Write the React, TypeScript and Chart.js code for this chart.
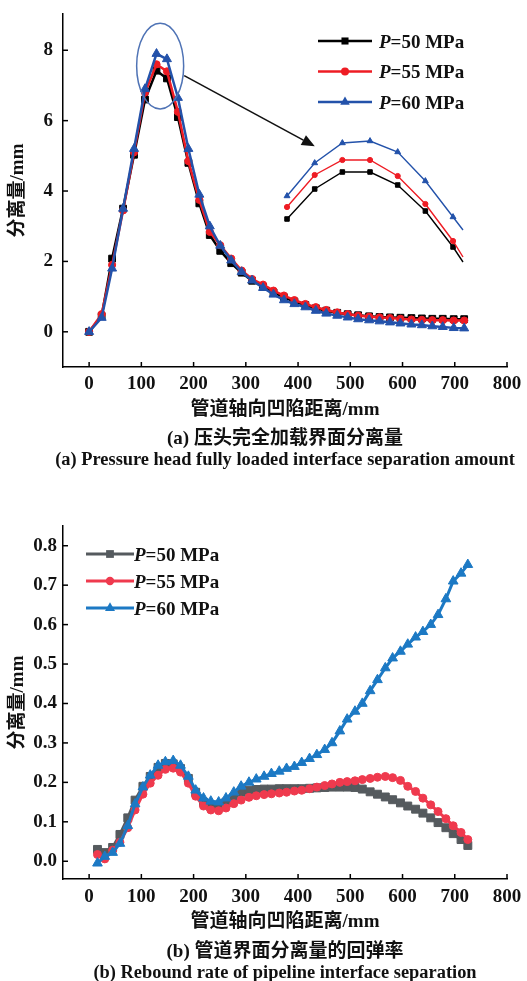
import React, { useEffect, useRef } from "react";
import { Chart, registerables } from "chart.js";
Chart.register(...registerables);

// ---------- data: chart (a) ----------
const seriesNames = ["50", "55", "60"];
const distA = [0, 24, 44, 65, 86, 107, 129, 149, 170, 190, 211, 231, 251, 272, 292, 312, 333, 353, 373, 393, 414, 434, 454, 475, 495, 515, 536, 556, 576, 596, 617, 637, 657, 677, 698, 718];
const sepA50 = [0, 0.45, 2.08, 3.5, 5.03, 6.6, 7.42, 7.2, 6.1, 4.8, 3.65, 2.75, 2.3, 1.95, 1.68, 1.45, 1.28, 1.12, 0.98, 0.86, 0.76, 0.67, 0.6, 0.54, 0.5, 0.47, 0.44, 0.42, 0.41, 0.4, 0.39, 0.38, 0.37, 0.37, 0.36, 0.36];
const sepA55 = [0, 0.5, 1.9, 3.45, 5.1, 6.8, 7.6, 7.4, 6.25, 4.85, 3.75, 2.84, 2.46, 2.08, 1.74, 1.5, 1.34, 1.17, 1.03, 0.9, 0.79, 0.7, 0.62, 0.55, 0.5, 0.46, 0.43, 0.41, 0.39, 0.37, 0.35, 0.34, 0.33, 0.33, 0.32, 0.32];
const sepA60 = [0, 0.4, 1.8, 3.5, 5.2, 6.9, 7.9, 7.75, 6.65, 5.2, 3.9, 3.0, 2.45, 2.03, 1.7, 1.46, 1.25, 1.06, 0.9, 0.79, 0.7, 0.6, 0.52, 0.46, 0.41, 0.36, 0.33, 0.3, 0.27, 0.24, 0.21, 0.19, 0.16, 0.14, 0.11, 0.1];
// magnified peak (inset)
const insetDist = [110, 120, 130, 140, 150, 160, 170, 173.6];
const inset50 = [6.98, 7.28, 7.45, 7.45, 7.32, 7.06, 6.7, 6.55];
const inset55 = [7.1, 7.42, 7.57, 7.57, 7.41, 7.13, 6.76, 6.6];
const inset60 = [7.21, 7.54, 7.74, 7.76, 7.65, 7.36, 7.0, 6.87];

// ---------- data: chart (b) ----------
const distB = [16, 30, 45, 59, 74, 88, 103, 117, 132, 146, 161, 175, 190, 204, 219, 233, 248, 262, 277, 291, 306, 320, 335, 349, 364, 378, 393, 407, 422, 436, 451, 465, 480, 494, 509, 523, 538, 552, 567, 581, 596, 610, 625, 639, 654, 668, 683, 697, 712, 725];
const rebB50 = [0.03, 0.022, 0.035, 0.068, 0.11, 0.155, 0.19, 0.215, 0.238, 0.248, 0.247, 0.235, 0.21, 0.175, 0.15, 0.138, 0.138, 0.15, 0.163, 0.175, 0.18, 0.182, 0.183, 0.183, 0.184, 0.184, 0.184, 0.184, 0.185, 0.186, 0.187, 0.188, 0.188, 0.188, 0.187, 0.183, 0.176, 0.17, 0.163, 0.156, 0.148, 0.14, 0.132, 0.122, 0.11, 0.098, 0.085, 0.07, 0.055, 0.04];
const rebB55 = [0.017, 0.006, 0.028, 0.048, 0.085, 0.13, 0.17, 0.198, 0.218, 0.233, 0.236, 0.226, 0.198, 0.165, 0.14, 0.13, 0.128, 0.135, 0.146, 0.155, 0.162, 0.166, 0.169, 0.171, 0.173, 0.175, 0.178, 0.18, 0.184, 0.188, 0.192, 0.196, 0.2, 0.202, 0.204, 0.207, 0.21, 0.213, 0.215, 0.212, 0.205, 0.19, 0.177, 0.16, 0.143, 0.126, 0.108, 0.09, 0.073, 0.055];
const rebB60 = [-0.005, 0.012, 0.022, 0.045, 0.09, 0.145, 0.188, 0.218, 0.243, 0.252, 0.255, 0.243, 0.215, 0.18, 0.16, 0.152, 0.15, 0.16, 0.175, 0.19, 0.2, 0.208, 0.215, 0.222, 0.228, 0.235, 0.24, 0.25, 0.26, 0.27, 0.283, 0.3, 0.33, 0.36, 0.38, 0.4, 0.432, 0.46, 0.49, 0.515, 0.532, 0.55, 0.568, 0.582, 0.6, 0.625, 0.665, 0.71, 0.73, 0.752];

// ---------- ticks ----------
const xTicks = [0, 100, 200, 300, 400, 500, 600, 700, 800];
const yTicksA = [0, 2, 4, 6, 8];
const yTicksB = [0, 0.1, 0.2, 0.3, 0.4, 0.5, 0.6, 0.7, 0.8];

const xTitle = "管道轴向凹陷距离/mm";
const yTitle = "分离量/mm";
const captionA1 = "(a) 压头完全加载界面分离量";
const captionA2 = "(a) Pressure head fully loaded interface separation amount";
const captionB1 = "(b) 管道界面分离量的回弹率";
const captionB2 = "(b) Rebound rate of pipeline interface separation";

const FONT = '"Liberation Serif", "Noto Sans CJK SC", serif';

const pts = (xs: number[], ys: number[]) => xs.map((x, i) => ({ x, y: ys[i] }));

function drawMarker(ctx: CanvasRenderingContext2D, style: string, x: number, y: number, r: number) {
  ctx.beginPath();
  if (style === "rect") {
    const s = r * Math.SQRT1_2;
    ctx.rect(x - s, y - s, 2 * s, 2 * s);
  } else if (style === "circle") {
    ctx.arc(x, y, r, 0, Math.PI * 2);
  } else {
    ctx.moveTo(x, y - r);
    ctx.lineTo(x + r * 0.866, y + r * 0.5);
    ctx.lineTo(x - r * 0.866, y + r * 0.5);
    ctx.closePath();
  }
  ctx.fill();
}

const inwardTicks = {
  id: "inwardTicks",
  afterDatasetsDraw(chart: any) {
    const { ctx, chartArea, scales } = chart;
    ctx.save();
    ctx.strokeStyle = "#000";
    ctx.lineWidth = 1.5;
    const xs = scales.x;
    const ys = scales.y;
    xs.ticks.forEach((t: any) => {
      const px = xs.getPixelForValue(t.value);
      ctx.beginPath();
      ctx.moveTo(px, chartArea.bottom);
      ctx.lineTo(px, chartArea.bottom - 5);
      ctx.stroke();
    });
    ys.ticks.forEach((t: any) => {
      const py = ys.getPixelForValue(t.value);
      ctx.beginPath();
      ctx.moveTo(chartArea.left, py);
      ctx.lineTo(chartArea.left + 5, py);
      ctx.stroke();
    });
    ctx.restore();
  },
};

const customLegend = {
  id: "customLegend",
  afterDraw(chart: any, _args: any, opts: any) {
    if (!opts || !opts.items) return;
    const { ctx, chartArea } = chart;
    ctx.save();
    opts.items.forEach((it: any, i: number) => {
      const y = chartArea.top + opts.dy + i * opts.gap;
      const x0 = chartArea.left + opts.dx;
      ctx.strokeStyle = it.color;
      ctx.fillStyle = it.color;
      ctx.lineWidth = opts.lineWidth;
      ctx.beginPath();
      ctx.moveTo(x0, y);
      ctx.lineTo(x0 + opts.len, y);
      ctx.stroke();
      drawMarker(ctx, it.style, x0 + opts.len / 2, y, it.r);
      ctx.fillStyle = "#111";
      ctx.textBaseline = "middle";
      ctx.textAlign = "left";
      let tx = x0 + opts.len + opts.textGap;
      ctx.font = `italic bold ${opts.fontSize}px ${FONT}`;
      ctx.fillText("P", tx, y + 2);
      tx += ctx.measureText("P").width;
      ctx.font = `bold ${opts.fontSize}px ${FONT}`;
      ctx.fillText(`=${it.label} MPa`, tx, y + 2);
    });
    ctx.restore();
  },
};

const zoomMark = {
  id: "zoomMark",
  afterDatasetsDraw(chart: any, _args: any, opts: any) {
    if (!opts || !opts.enabled) return;
    const { ctx, scales } = chart;
    const xs = scales.x;
    const ys = scales.y;
    const cx = xs.getPixelForValue(136);
    const cy = ys.getPixelForValue(7.55);
    const rx = xs.getPixelForValue(181) - cx;
    const ry = cy - ys.getPixelForValue(8.77);
    ctx.save();
    ctx.strokeStyle = "#4f73b5";
    ctx.lineWidth = 1.5;
    ctx.beginPath();
    ctx.ellipse(cx, cy, rx, ry, 0, 0, Math.PI * 2);
    ctx.stroke();
    const x1 = xs.getPixelForValue(182);
    const y1 = ys.getPixelForValue(7.28);
    const x2 = xs.getPixelForValue(432);
    const y2 = ys.getPixelForValue(5.27);
    const ang = Math.atan2(y2 - y1, x2 - x1);
    const hl = 13;
    const hw = 5.5;
    ctx.strokeStyle = "#111";
    ctx.fillStyle = "#111";
    ctx.lineWidth = 1.6;
    ctx.beginPath();
    ctx.moveTo(x1, y1);
    ctx.lineTo(x2 - hl * Math.cos(ang), y2 - hl * Math.sin(ang));
    ctx.stroke();
    ctx.beginPath();
    ctx.moveTo(x2, y2);
    ctx.lineTo(x2 - hl * Math.cos(ang) + hw * Math.sin(ang), y2 - hl * Math.sin(ang) - hw * Math.cos(ang));
    ctx.lineTo(x2 - hl * Math.cos(ang) - hw * Math.sin(ang), y2 - hl * Math.sin(ang) + hw * Math.cos(ang));
    ctx.closePath();
    ctx.fill();
    ctx.restore();
  },
};

function lineDs(label: string, data: any[], color: string, style: string, r: number, order: number, width: number, extra: any = {}) {
  return {
    label,
    data,
    borderColor: color,
    backgroundColor: color,
    pointBackgroundColor: color,
    pointBorderColor: color,
    pointBorderWidth: 1,
    pointStyle: style,
    pointRadius: r,
    borderWidth: width,
    tension: 0,
    order,
    ...extra,
  };
}

function axisCommon(min: number, max: number, ticks: number[], fmt: (v: number) => string, fixed: number, isX: boolean, pad: number, titlePad: number) {
  return {
    type: "linear",
    min,
    max,
    afterBuildTicks: (s: any) => {
      s.ticks = ticks.map((v) => ({ value: v }));
    },
    afterFit: (s: any) => {
      if (isX) s.height = fixed;
      else s.width = fixed;
      s.paddingTop = 0;
      s.paddingBottom = 0;
      s.paddingLeft = 0;
      s.paddingRight = 0;
    },
    grid: { display: true, drawOnChartArea: false, drawTicks: false },
    border: { display: true, color: "#000", width: 1.5 },
    ticks: {
      color: "#111",
      padding: pad,
      font: { family: FONT, size: 19, weight: "bold" },
      callback: (v: any) => fmt(Number(v)),
      maxRotation: 0,
      autoSkip: false,
    },
    title: {
      display: true,
      text: isX ? xTitle : yTitle,
      color: "#111",
      font: { family: FONT, size: 19, weight: "bold" },
      padding: isX ? { top: 0, bottom: titlePad } : { top: titlePad, bottom: 0 },
    },
  };
}

function ChartA() {
  const ref = useRef<HTMLCanvasElement | null>(null);
  useEffect(() => {
    if (!ref.current) return;
    const colors = ["#000000", "#ee1c24", "#2352aa"];
    const chart = new Chart(ref.current, {
      type: "line",
      data: {
        datasets: [
          lineDs(seriesNames[0], pts(distA, sepA50), colors[0], "rect", 4.8, 3, 2.5),
          lineDs(seriesNames[1], pts(distA, sepA55), colors[1], "circle", 3.6, 2, 2.5),
          lineDs(seriesNames[2], pts(distA, sepA60), colors[2], "triangle", 5.2, 1, 2.5),
          lineDs("i50", pts(insetDist, inset50), colors[0], "rect", 3.2, 6, 1.4, { xAxisID: "xi", yAxisID: "yi", pointRadius: [3.2, 3.2, 3.2, 3.2, 3.2, 3.2, 3.2, 0] }),
          lineDs("i55", pts(insetDist, inset55), colors[1], "circle", 2.6, 5, 1.4, { xAxisID: "xi", yAxisID: "yi", pointRadius: [2.6, 2.6, 2.6, 2.6, 2.6, 2.6, 2.6, 0] }),
          lineDs("i60", pts(insetDist, inset60), colors[2], "triangle", 3.4, 4, 1.4, { xAxisID: "xi", yAxisID: "yi", pointRadius: [3.4, 3.4, 3.4, 3.4, 3.4, 3.4, 3.4, 0] }),
        ] as any,
      },
      options: {
        animation: false,
        responsive: false,
        devicePixelRatio: 1,
        layout: { padding: { top: 14, right: 20, left: 0, bottom: 0 } },
        plugins: {
          legend: { display: false },
          tooltip: { enabled: false },
          customLegend: {
            items: [
              { label: seriesNames[0], color: colors[0], style: "rect", r: 5 },
              { label: seriesNames[1], color: colors[1], style: "circle", r: 4 },
              { label: seriesNames[2], color: colors[2], style: "triangle", r: 5.5 },
            ],
            dx: 255,
            dy: 27,
            gap: 30.5,
            len: 54,
            textGap: 7,
            fontSize: 19,
            lineWidth: 2.5,
          },
          zoomMark: { enabled: true },
        } as any,
        scales: {
          x: axisCommon(-50, 800, xTicks, (v) => String(v), 63, true, 6, 8.6) as any,
          y: axisCommon(-1, 9.03, yTicksA, (v) => String(v), 63, false, 10, 6.6) as any,
          xi: { type: "linear", display: false, min: 29.04, max: 189.5 },
          yi: { type: "linear", display: false, min: 5.5, max: 9.03 },
        },
      },
      plugins: [inwardTicks, customLegend, zoomMark],
    });
    return () => chart.destroy();
  }, []);
  return <canvas ref={ref} width={527} height={430} style={{ position: "absolute", left: 0, top: 0, width: 527, height: 430 }} />;
}

function ChartB() {
  const ref = useRef<HTMLCanvasElement | null>(null);
  useEffect(() => {
    if (!ref.current) return;
    const colors = ["#555a5e", "#ef3a4e", "#1c79c4"];
    const chart = new Chart(ref.current, {
      type: "line",
      data: {
        datasets: [
          lineDs(seriesNames[0], pts(distB, rebB50), colors[0], "rect", 5.6, 3, 3),
          lineDs(seriesNames[1], pts(distB, rebB55), colors[1], "circle", 4, 2, 3),
          lineDs(seriesNames[2], pts(distB, rebB60), colors[2], "triangle", 5.6, 1, 3),
        ] as any,
      },
      options: {
        animation: false,
        responsive: false,
        devicePixelRatio: 1,
        layout: { padding: { top: 26, right: 20, left: 0, bottom: 0 } },
        plugins: {
          legend: { display: false },
          tooltip: { enabled: false },
          customLegend: {
            items: [
              { label: seriesNames[0], color: colors[0], style: "rect", r: 5.5 },
              { label: seriesNames[1], color: colors[1], style: "circle", r: 4.2 },
              { label: seriesNames[2], color: colors[2], style: "triangle", r: 5.8 },
            ],
            dx: 23,
            dy: 28,
            gap: 27,
            len: 48,
            textGap: 0,
            fontSize: 19,
            lineWidth: 3,
          },
        } as any,
        scales: {
          x: axisCommon(-50, 800, xTicks, (v) => String(v), 61, true, 7, 6.6) as any,
          y: axisCommon(-0.045, 0.85, yTicksB, (v) => v.toFixed(1), 63, false, 6, 6.6) as any,
        },
      },
      plugins: [inwardTicks, customLegend],
    });
    return () => chart.destroy();
  }, []);
  return <canvas ref={ref} width={527} height={440} style={{ position: "absolute", left: 0, top: 500, width: 527, height: 440 }} />;
}

const capStyle = (top: number, size: number): React.CSSProperties => ({
  position: "absolute",
  left: 285,
  top,
  transform: "translate(-50%, -50%)",
  whiteSpace: "nowrap",
  fontFamily: FONT,
  fontWeight: "bold",
  fontSize: size,
  color: "#111",
  lineHeight: 1,
});

export default function App() {
  return (
    <div style={{ position: "absolute", left: 0, top: 0, width: 527, height: 981, background: "#fff", overflow: "hidden" }}>
      <ChartA />
      <div style={capStyle(437, 19)}>{captionA1}</div>
      <div style={capStyle(459, 18.4)}>{captionA2}</div>
      <ChartB />
      <div style={capStyle(950, 19)}>{captionB1}</div>
      <div style={capStyle(972, 18.4)}>{captionB2}</div>
    </div>
  );
}
